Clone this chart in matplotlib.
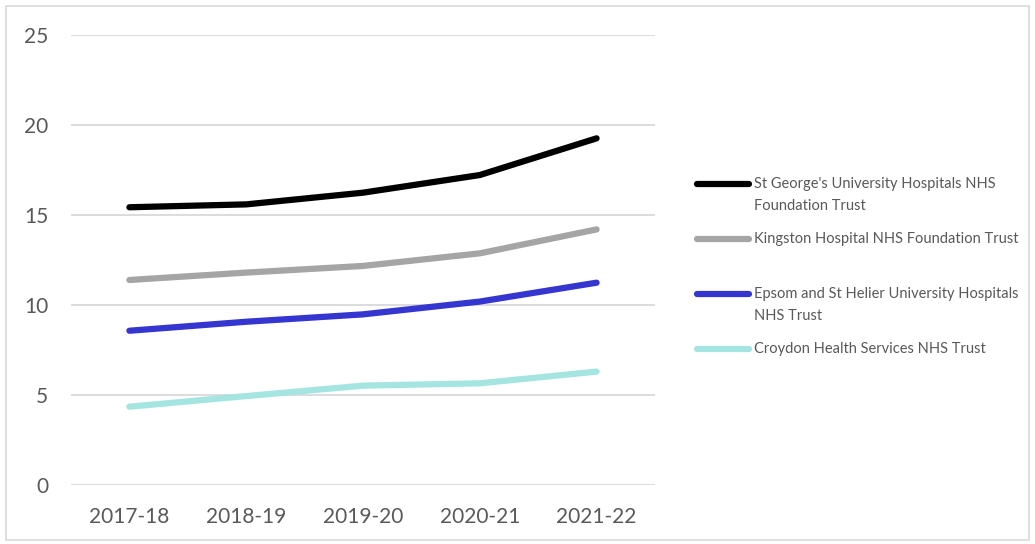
import matplotlib
matplotlib.use("Agg")
import matplotlib.pyplot as plt
from matplotlib.lines import Line2D
from matplotlib.patches import Rectangle

years = ["2017-18", "2018-19", "2019-20", "2020-21", "2021-22"]
series_names = [
    "St George's University Hospitals NHS\nFoundation Trust",
    "Kingston Hospital NHS Foundation Trust",
    "Epsom and St Helier University Hospitals\nNHS Trust",
    "Croydon Health Services NHS Trust",
]
st_georges = [15.43, 15.59, 16.24, 17.22, 19.26]
kingston = [11.39, 11.80, 12.17, 12.87, 14.20]
epsom = [8.57, 9.07, 9.48, 10.19, 11.24]
croydon = [4.35, 4.94, 5.52, 5.65, 6.30]
series_values = [st_georges, kingston, epsom, croydon]
colors = ["#000000", "#A5A5A5", "#3535CF", "#A4E5E1"]
y_ticks = [0, 5, 10, 15, 20, 25]

plt.rcParams['font.family'] = ['Lato', 'DejaVu Sans']

fig = plt.figure(figsize=(10.35, 5.44), dpi=100)
fig.patch.set_facecolor("white")
fig.add_artist(Rectangle((6 / 1035, 4 / 544), 1023 / 1035, 534 / 544,
                         transform=fig.transFigure, fill=False,
                         edgecolor="#D9D9D9", lw=1.2))

ax = fig.add_axes([71 / 1035, 1 - 485 / 544, 584 / 1035, 450 / 544])
x = [i + 0.5 for i in range(len(years))]
for vals, c in zip(series_values, colors):
    ax.plot(x, vals, color=c, lw=4.5, solid_capstyle="round", solid_joinstyle="round", zorder=3)

ax.set_xlim(0, len(years))
ax.set_ylim(0, 25)
ax.set_yticks(y_ticks)
ax.set_yticklabels([str(v) for v in y_ticks])
ax.set_xticks(x)
ax.set_xticklabels(years)
ax.grid(axis="y", color="#D9D9D9", lw=1.3)
ax.set_axisbelow(True)
for s in ax.spines.values():
    s.set_visible(False)
ax.tick_params(axis="both", length=0, labelsize=15, labelcolor="#595959")
ax.tick_params(axis="y", pad=16.5)
ax.tick_params(axis="x", pad=16)

# legend (manual, text aligned with first line as in reference)
leg_y = [184, 239, 294, 349]
for name, c, yy in zip(series_names, colors, leg_y):
    yf = 1 - yy / 544
    fig.add_artist(Line2D([697 / 1035, 749 / 1035], [yf, yf], transform=fig.transFigure,
                          color=c, lw=4.5, solid_capstyle="round"))
    fig.text(754 / 1035, 1 - (yy - 7) / 544, name, ha="left", va="top",
             fontsize=10.5, color="#595959", linespacing=1.7)

fig.savefig("out.png", dpi=100, facecolor="white")
